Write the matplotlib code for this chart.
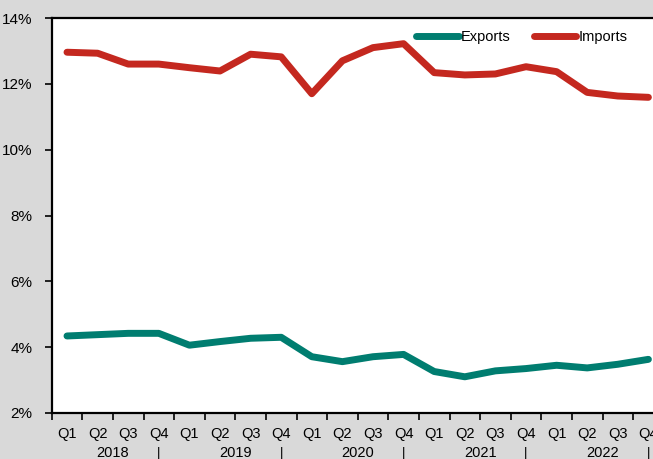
import numpy as np
import matplotlib.pyplot as plt
import matplotlib.transforms as mtransforms

quarters = ["Q1", "Q2", "Q3", "Q4"] * 5
years = ["2018", "2019", "2020", "2021", "2022"]
exports = [4.34, 4.38, 4.42, 4.42, 4.06, 4.17, 4.27, 4.30, 3.71, 3.56,
           3.71, 3.78, 3.26, 3.10, 3.28, 3.35, 3.45, 3.37, 3.48, 3.63]
imports = [12.96, 12.93, 12.60, 12.60, 12.49, 12.39, 12.90, 12.82, 11.70, 12.70,
           13.10, 13.22, 12.34, 12.27, 12.30, 12.52, 12.37, 11.74, 11.63, 11.59]
yticks = [2, 4, 6, 8, 10, 12, 14]

plt.rcParams['font.family'] = ['Liberation Sans', 'DejaVu Sans']
fs = 10.5

fig = plt.figure(figsize=(6.53, 4.59), dpi=100, facecolor='#d9d9d9')
ax = fig.add_axes([51.7 / 653, 46 / 459, 612 / 653, 395 / 459])
ax.set_facecolor('white')

x = np.arange(len(exports))
ax.plot(x, exports, color='#007d70', lw=5, solid_capstyle='round', solid_joinstyle='round', label='Exports')
ax.plot(x, imports, color='#c4281f', lw=5, solid_capstyle='round', solid_joinstyle='round', label='Imports')

ax.set_xlim(-0.5, len(x) - 0.5)
ax.set_ylim(2, 14)
ax.set_yticks(yticks)
ax.set_yticklabels([f"{v}%" for v in yticks], fontsize=fs + 0.5)

# boundary ticks, labels on the centres
ax.set_xticks(np.arange(len(x) + 1) - 0.5)
ax.set_xticklabels([])
ax.set_xticks(x, minor=True)
ax.set_xticklabels(quarters, minor=True, fontsize=fs)
ax.tick_params(axis='x', which='major', direction='out', length=5, width=1.2)
ax.tick_params(axis='x', which='minor', length=0, pad=10)
ax.tick_params(axis='y', direction='out', length=5, width=1.2, pad=9)

trans = mtransforms.blended_transform_factory(ax.transData, ax.transAxes)
for i, yr in enumerate(years):
    ax.text(4 * i + 1.5, -0.101, yr, transform=trans, ha='center', va='center', fontsize=fs)
    ax.text(4 * i + 3, -0.101, "|", transform=trans, ha='center', va='center', fontsize=fs - 1)

for s in ['left', 'bottom', 'top']:
    ax.spines[s].set_linewidth(1.6)
ax.spines['right'].set_visible(False)

leg = ax.legend(ncol=2, frameon=False, loc='upper left', bbox_to_anchor=(353 / 612, 1.0),
                fontsize=fs, handlelength=2.9, handletextpad=0.15, columnspacing=1.6,
                borderaxespad=0.4)

fig.savefig('out.png', dpi=100, facecolor=fig.get_facecolor())
